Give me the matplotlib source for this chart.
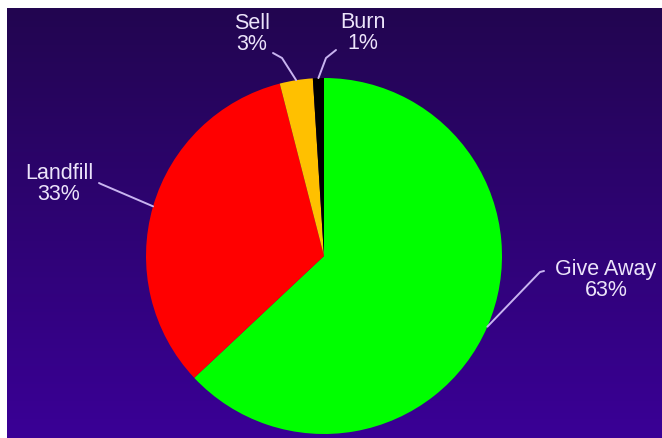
import numpy as np
import matplotlib.pyplot as plt
from matplotlib.colors import LinearSegmentedColormap

labels = ["Give Away", "Landfill", "Sell", "Burn"]
shares = [63, 33, 3, 1]
colors = ["#00FF00", "#FF0000", "#FFC000", "#000000"]

W, H = 662, 438
cx, cy, R = 324, 256, 178   # pie centre and radius in pixels

fig = plt.figure(figsize=(W / 100, H / 100), dpi=100)
fig.patch.set_facecolor("white")

# purple gradient background
bg = fig.add_axes([7 / W, 0, (W - 7) / W, (H - 8) / H])
grad = np.linspace(0, 1, 256).reshape(-1, 1)
cmap = LinearSegmentedColormap.from_list("bg", ["#220650", "#3A0096"])
bg.imshow(grad, aspect="auto", cmap=cmap, extent=[0, 1, 1, 0])
bg.set_axis_off()

ax = fig.add_axes([0, 0, 1, 1])
ax.patch.set_alpha(0)
wedges, _ = ax.pie(shares, colors=colors, startangle=90, counterclock=False,
                   radius=1, wedgeprops=dict(linewidth=0))
ax.set_xlim(-cx / R, (W - cx) / R)
ax.set_ylim(-(H - cy) / R, cy / R)
ax.set_aspect("auto")
ax.set_axis_off()


def px(x, y):
    return (x - cx) / R, (cy - y) / R


# label centre (px), leader elbow (px), leader tip (px)
label_pos = [(606, 280), (59, 184), (252, 34), (363, 33)]
elbows = [(540, 272), (101, 184), (282, 58), (326, 58)]
tips = [(544, 271), (99, 183), (273, 53), (336, 50)]

txt_col = "#ECE4FA"
line_col = "#C8B4F0"
for w, lab, s, lp, el, tp in zip(wedges, labels, shares, label_pos, elbows, tips):
    ang = np.deg2rad((w.theta1 + w.theta2) / 2)
    x0, y0 = np.cos(ang), np.sin(ang)
    ex, ey = px(*el)
    tx, ty = px(*tp)
    ax.plot([x0, ex, tx], [y0, ey, ty], color=line_col, lw=1.4,
            solid_capstyle="round")
    lx, ly = px(*lp)
    ax.text(lx, ly, f"{lab}\n{s}%", ha="center", va="center",
            multialignment="center", color=txt_col, fontsize=15.5,
            family=["Liberation Sans", "DejaVu Sans"], linespacing=1.05)

fig.savefig("out.png", dpi=100, facecolor=fig.get_facecolor())
